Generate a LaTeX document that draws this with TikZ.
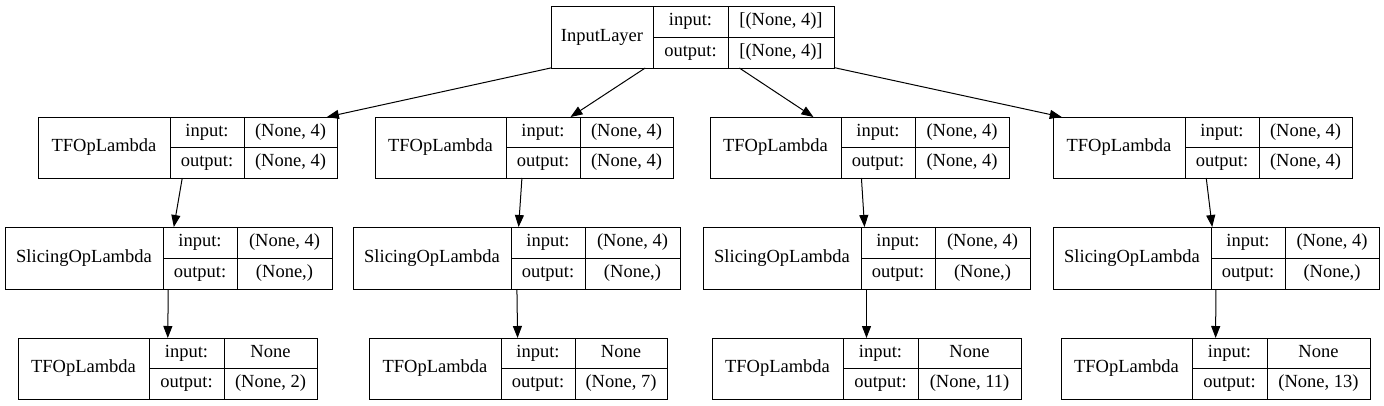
\documentclass[tikz,border=0pt]{standalone}
\usepackage{fontspec}
\setmainfont{LiberationSerif}[Extension=.ttf, UprightFont=*-Regular, BoldFont=*-Bold]
\newfontfamily\kfont{LiberationSerif}[Extension=.ttf, UprightFont=*-Regular]
\usetikzlibrary{arrows.meta}
\tikzset{
  kbox/.style={draw=black, line width=1pt, inner sep=0pt, outer sep=0pt, fill=white},
  kline/.style={draw=black, line width=1pt},
  ktext/.style={inner sep=0pt, font=\kfont\fontsize{18.5}{20}\selectfont, text height=12.5pt, text depth=4.5pt},
  karrow/.style={draw=black, line width=1pt, -{Triangle[length=12pt,width=9pt]}}
}
% #1 name, #2 x1, #3 d1, #4 d2, #5 x2, #6 label, #7 input value, #8 output value; rows from \yt, \yb
\newcommand\kbox[8]{%
  \pgfmathsetmacro\kw{#5-#2}%
  \pgfmathsetmacro\kh{\yb-\yt}%
  \pgfmathsetmacro\kx{(#2+#5)/2}%
  \pgfmathsetmacro\ky{(\yt+\yb)/2}%
  \node[kbox, minimum width=\kw pt, minimum height=\kh pt] (#1) at (\kx,\ky) {};
  \draw[kline] (#3,\yt) -- (#3,\yb) (#4,\yt) -- (#4,\yb) (#3,\ky) -- (#5,\ky);
  \node[ktext] (#1-l) at ({(#2+#3)/2},\ky) {#6};
  \node[ktext] (#1-i) at ({(#3+#4)/2},{(\yt+\ky)/2}) {input:};
  \node[ktext] (#1-iv) at ({(#4+#5)/2},{(\yt+\ky)/2}) {#7};
  \node[ktext] (#1-o) at ({(#3+#4)/2},{(\ky+\yb)/2}) {output:};
  \node[ktext] (#1-ov) at ({(#4+#5)/2},{(\ky+\yb)/2}) {#8};
}
\begin{document}
\begin{tikzpicture}[x=1pt,y=-1pt]
\useasboundingbox[fill=white] (0,0) rectangle (1384,405);
% Input layer
\def\yt{6}\def\yb{68}
\kbox{in}{551}{653}{728}{834}{InputLayer}{[(None, 4)]}{[(None, 4)]}
% Row 2
\def\yt{117}\def\yb{178}
\kbox{a1}{38}{170}{244}{337}{TFOpLambda}{(None, 4)}{(None, 4)}
\kbox{a2}{375}{506}{580}{673}{TFOpLambda}{(None, 4)}{(None, 4)}
\kbox{a3}{710}{841}{915}{1009}{TFOpLambda}{(None, 4)}{(None, 4)}
\kbox{a4}{1053}{1185}{1259}{1352}{TFOpLambda}{(None, 4)}{(None, 4)}
% Row 3
\def\yt{227}\def\yb{289}
\kbox{b1}{5}{163}{237}{332}{SlicingOpLambda}{(None, 4)}{(None,)}
\kbox{b2}{353}{511}{585}{680}{SlicingOpLambda}{(None, 4)}{(None,)}
\kbox{b3}{703}{861}{935}{1030}{SlicingOpLambda}{(None, 4)}{(None,)}
\kbox{b4}{1053}{1211}{1285}{1379}{SlicingOpLambda}{(None, 4)}{(None,)}
% Row 4
\def\yt{338}\def\yb{399}
\kbox{c1}{18}{149}{224}{317}{TFOpLambda}{None}{(None, 2)}
\kbox{c2}{369}{501}{575}{667}{TFOpLambda}{None}{(None, 7)}
\kbox{c3}{712}{843}{918}{1021}{TFOpLambda}{None}{(None, 11)}
\kbox{c4}{1061}{1192}{1267}{1370}{TFOpLambda}{None}{(None, 13)}
% Edges
\foreach \k in {1,2,3,4}{
  \draw[karrow] (in) -- (a\k);
  \draw[karrow] (a\k) -- (b\k);
  \draw[karrow] (b\k) -- (c\k);
}
\end{tikzpicture}
\end{document}
